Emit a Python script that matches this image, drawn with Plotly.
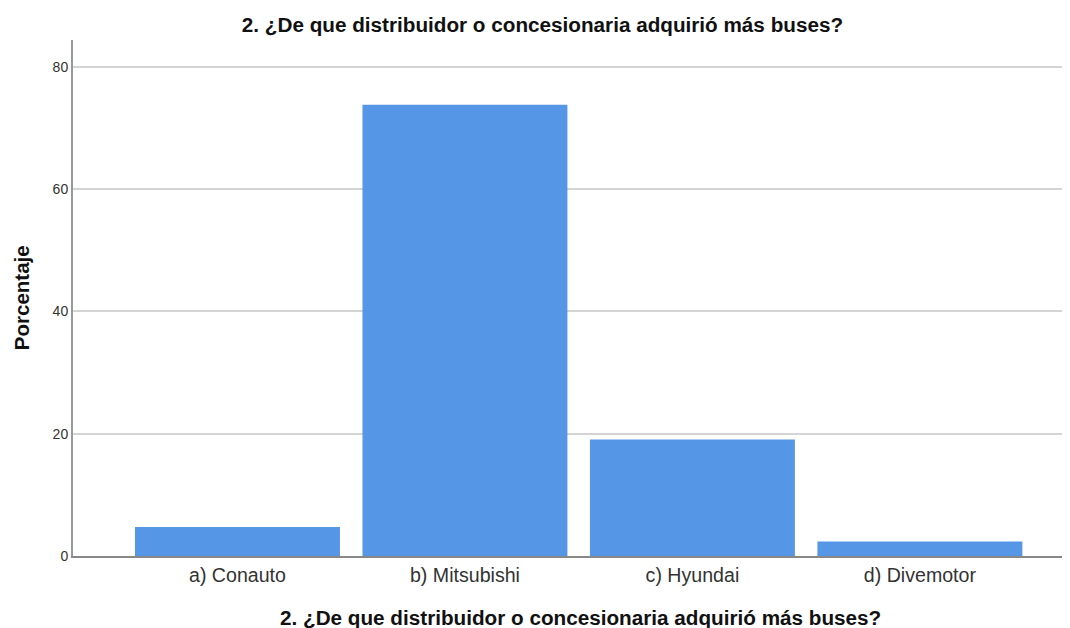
import plotly.graph_objects as go

categories = ["a) Conauto", "b) Mitsubishi", "c) Hyundai", "d) Divemotor"]
porcentajes = [4.76, 73.81, 19.05, 2.38]
y_ticks = [0, 20, 40, 60, 80]

titulo = "2. ¿De que distribuidor o concesionaria adquirió más buses?"

fig = go.Figure(
    go.Bar(
        x=categories,
        y=porcentajes,
        marker=dict(color="#5596E6", line=dict(width=0)),
    )
)

fig.update_layout(
    width=1070,
    height=628,
    margin=dict(l=65, r=0, t=32, b=80),
    plot_bgcolor="white",
    paper_bgcolor="white",
    bargap=0.099,
    showlegend=False,
    font=dict(family="Liberation Sans, Arial", color="#222"),
    title=dict(
        text="<b>" + titulo + "</b>",
        x=0.4995,
        xanchor="center",
        y=0.973,
        yanchor="middle",
        font=dict(size=20.7, color="#111"),
    ),
)

# titulos de los ejes como anotaciones para ubicarlos igual que el original
fig.add_annotation(
    text="<b>" + titulo + "</b>",
    xref="paper", yref="paper",
    x=0.5045, y=-0.12,
    xanchor="center", yanchor="middle",
    showarrow=False,
    font=dict(size=20.7, color="#111"),
)
fig.add_annotation(
    text="<b>Porcentaje</b>",
    xref="paper", yref="paper",
    x=-0.0516, y=0.5,
    xanchor="center", yanchor="middle",
    textangle=-90,
    showarrow=False,
    font=dict(size=20.5, color="#111"),
)

fig.update_xaxes(
    range=[-0.723, 3.695],
    showline=True,
    linecolor="#888",
    linewidth=2,
    ticks="",
    tickfont=dict(size=19.6, color="#333"),
)

fig.update_yaxes(
    range=[0, 84.4],
    tickvals=y_ticks,
    showline=True,
    linecolor="#999",
    linewidth=2,
    showgrid=True,
    gridcolor="#d4d4d4",
    gridwidth=1.5,
    zeroline=False,
    ticks="",
    tickfont=dict(size=14, color="#333"),
)

fig.write_html("out.html")
